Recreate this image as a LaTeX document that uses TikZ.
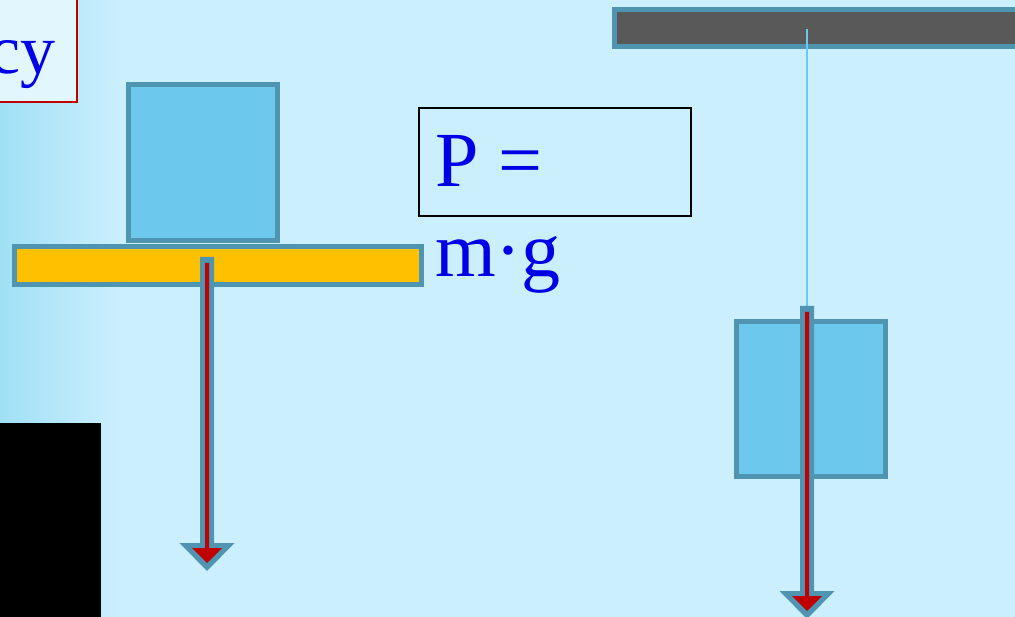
\documentclass[tikz,border=0pt]{standalone}
\usepackage{fontspec}
\setmainfont{Liberation Serif}
\definecolor{bg}{RGB}{204,239,253}
\definecolor{steel}{RGB}{79,148,176}
\definecolor{blockfill}{RGB}{108,200,236}
\definecolor{plank}{RGB}{255,192,0}
\definecolor{darkred}{RGB}{192,0,0}
\definecolor{ceil}{RGB}{89,89,89}
\definecolor{txtblue}{RGB}{0,0,230}
\definecolor{boxfill}{RGB}{226,246,253}
\definecolor{edgecyan}{RGB}{160,224,245}
\tikzset{
  body/.style={draw=steel, line width=5pt, fill=blockfill, inner sep=0pt},
  formula/.style={text=txtblue, inner sep=0pt, font=\fontsize{78}{80}\selectfont},
}
\newcommand{\blockarrow}[3]{% cx, ystart, yhead
  \fill[steel] (#1-7,#2) -- (#1+7,#2) -- (#1+7,#3) -- (#1+27.5,#3) -- (#1,#3+28) -- (#1-27.5,#3) -- (#1-7,#3) -- cycle;
  \fill[darkred] (#1-2,#2+6) -- (#1+2,#2+6) -- (#1+2,#3+5) -- (#1+15,#3+5) -- (#1,#3+20) -- (#1-15,#3+5) -- (#1-2,#3+5) -- cycle;
}
\begin{document}
\begin{tikzpicture}[x=1pt,y=-1pt]
\useasboundingbox (0,0) rectangle (1015,617);
\clip (0,0) rectangle (1015,617);
\fill[bg] (0,0) rectangle (1015,617);
\shade[left color=edgecyan, right color=bg] (0,0) rectangle (120,617);
% top-left label box
\draw[darkred, line width=2pt, fill=boxfill] (-10,-10) rectangle (77,102);
\node[text=txtblue, inner sep=0pt, anchor=base east, font=\fontsize{70}{72}\selectfont] (cy) at (56,74) {cy};
% black rectangle
\fill[black] (0,423) rectangle (101,620);
% left setup
\node[body, minimum width=149pt, minimum height=156pt] (blockA) at (203,162.5) {};
\node[body, fill=plank, minimum width=407pt, minimum height=38pt] (support) at (218,265.5) {};
\blockarrow{207}{257}{543}
% formula
\node[draw=black, line width=2pt, minimum width=272pt, minimum height=108pt, inner sep=0pt] (pbox) at (555,162) {};
\node[formula, anchor=base west] (peq) at (435,187) {P =};
\node[formula, anchor=base west] (mg) at (435,277) {m·g};
% right setup
\draw[steel, line width=5pt, fill=ceil] (614.5,9.5) rectangle (1025,46.5);
\coordinate (hook) at (807,29);
\coordinate (knot) at (807,306);
\draw[blockfill, line width=2pt] (hook) -- (knot);
\node[body, minimum width=149pt, minimum height=155pt] (blockB) at (811,399) {};
\blockarrow{807}{306}{591}
\end{tikzpicture}
\end{document}
